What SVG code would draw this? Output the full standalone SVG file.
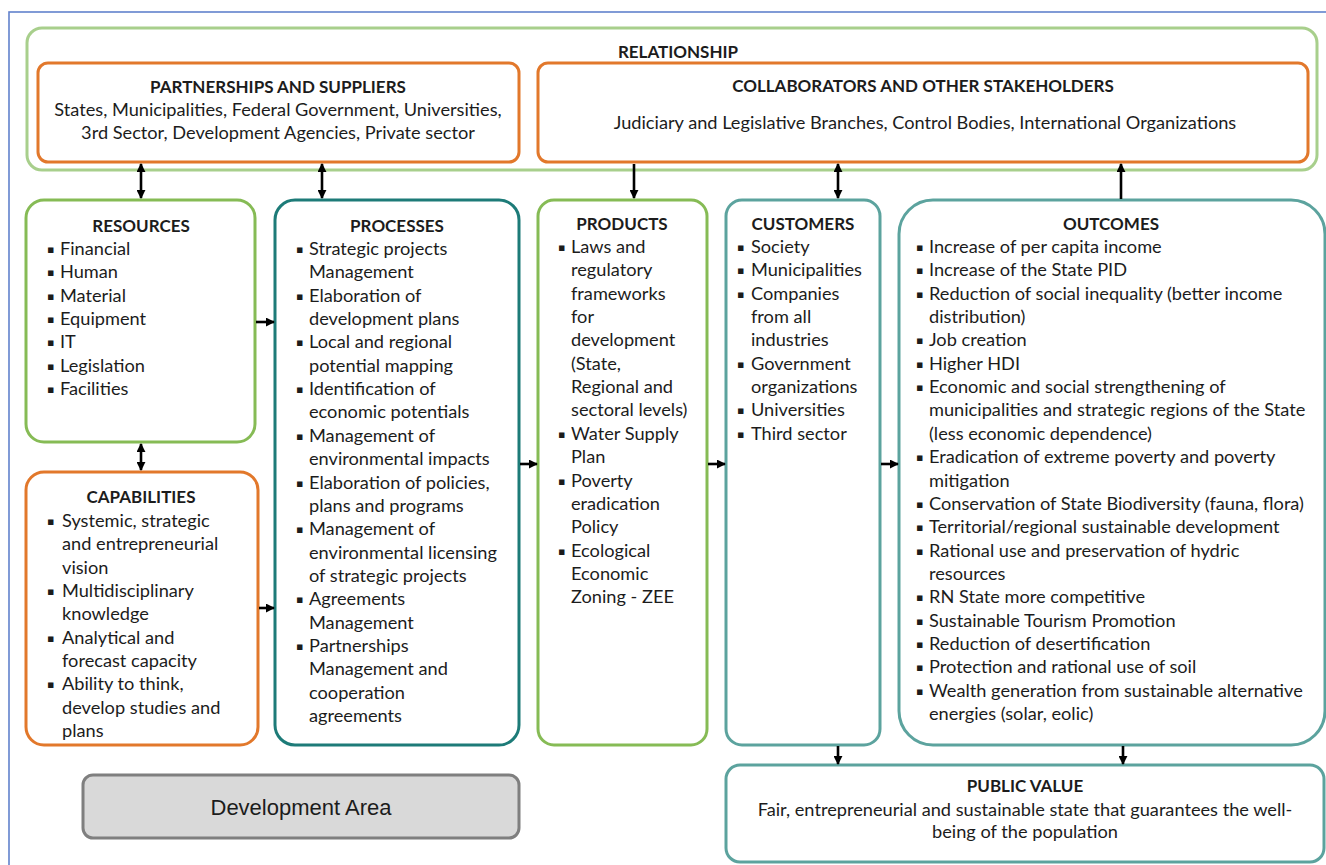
<svg xmlns="http://www.w3.org/2000/svg" width="1326" height="865" viewBox="0 0 1326 865">
  <style>
    .t { font-family: Lato, "Open Sans", "Liberation Sans", sans-serif; font-size: 18.2px; fill: #1c1c1c; }
    .h { font-family: Lato, "Open Sans", "Liberation Sans", sans-serif; font-size: 17px; font-weight: bold; fill: #1c1c1c; }
    .b { font-family: "DejaVu Sans", sans-serif; font-size: 11px; fill: #1c1c1c; }
    .box { fill: #ffffff; stroke-width: 3; }
    .orange { stroke: #e2782b; }
    .green { stroke: #86bb55; }
    .lgreen { stroke: #a8cf8c; }
    .teal { stroke: #1d7b78; }
    .lteal { stroke: #5ca39e; }
    .conn { stroke: #000; stroke-width: 2.6; fill: none; }
  </style>
  <defs>
    <marker id="ah" viewBox="0 0 10 10" refX="9" refY="5" markerWidth="9" markerHeight="9" markerUnits="userSpaceOnUse" orient="auto-start-reverse">
      <path d="M0,0 L10,5 L0,10 z" fill="#000"/>
    </marker>
  </defs>

  <rect x="9" y="12" width="1330" height="870" fill="#ffffff" stroke="#6282cc" stroke-width="1.6"/>

  <g id="relationship">
    <rect class="box lgreen" x="27" y="28" width="1290" height="142" rx="15"/>
    <text class="h" x="678" y="58" text-anchor="middle">RELATIONSHIP</text>
  </g>

  <g id="partnerships">
    <rect class="box orange" x="38" y="63" width="481" height="99" rx="10"/>
    <text class="h" x="278" y="93" text-anchor="middle">PARTNERSHIPS AND SUPPLIERS</text>
    <text class="t" x="278" y="116" text-anchor="middle">States, Municipalities, Federal Government, Universities,</text>
    <text class="t" x="278" y="139" text-anchor="middle">3rd Sector, Development Agencies, Private sector</text>
  </g>

  <g id="collaborators">
    <rect class="box orange" x="538" y="63" width="770" height="99" rx="10"/>
    <text class="h" x="923" y="92" text-anchor="middle">COLLABORATORS AND OTHER STAKEHOLDERS</text>
    <text class="t" x="925" y="129" text-anchor="middle">Judiciary and Legislative Branches, Control Bodies, International Organizations</text>
  </g>

  <g id="resources">
    <rect class="box green" x="26" y="200" width="229" height="242" rx="18"/>
    <text class="h" x="141" y="232" text-anchor="middle">RESOURCES</text>
    <text class="b"><tspan x="47" y="253">▪</tspan><tspan x="47" y="276.35">▪</tspan><tspan x="47" y="299.7">▪</tspan><tspan x="47" y="323.05">▪</tspan><tspan x="47" y="346.4">▪</tspan><tspan x="47" y="369.75">▪</tspan><tspan x="47" y="393.1">▪</tspan></text>
    <text class="t" x="60" y="255">
      <tspan x="60" dy="0">Financial</tspan>
      <tspan x="60" dy="23.35">Human</tspan>
      <tspan x="60" dy="23.35">Material</tspan>
      <tspan x="60" dy="23.35">Equipment</tspan>
      <tspan x="60" dy="23.35">IT</tspan>
      <tspan x="60" dy="23.35">Legislation</tspan>
      <tspan x="60" dy="23.35">Facilities</tspan>
    </text>
  </g>

  <g id="capabilities">
    <rect class="box orange" x="26" y="472" width="232" height="273" rx="18"/>
    <text class="h" x="141" y="503" text-anchor="middle">CAPABILITIES</text>
    <text class="b"><tspan x="47" y="525">▪</tspan><tspan x="47" y="595.05">▪</tspan><tspan x="47" y="641.75">▪</tspan><tspan x="47" y="688.45">▪</tspan></text>
    <text class="t" x="62" y="527">
      <tspan x="62" dy="0">Systemic, strategic</tspan>
      <tspan x="62" dy="23.35">and entrepreneurial</tspan>
      <tspan x="62" dy="23.35">vision</tspan>
      <tspan x="62" dy="23.35">Multidisciplinary</tspan>
      <tspan x="62" dy="23.35">knowledge</tspan>
      <tspan x="62" dy="23.35">Analytical and</tspan>
      <tspan x="62" dy="23.35">forecast capacity</tspan>
      <tspan x="62" dy="23.35">Ability to think,</tspan>
      <tspan x="62" dy="23.35">develop studies and</tspan>
      <tspan x="62" dy="23.35">plans</tspan>
    </text>
  </g>

  <g id="processes">
    <rect class="box teal" x="275" y="200" width="244" height="545" rx="20"/>
    <text class="h" x="397" y="232" text-anchor="middle">PROCESSES</text>
    <text class="b"><tspan x="296" y="253">▪</tspan><tspan x="296" y="299.7">▪</tspan><tspan x="296" y="346.4">▪</tspan><tspan x="296" y="393.1">▪</tspan><tspan x="296" y="439.8">▪</tspan><tspan x="296" y="486.5">▪</tspan><tspan x="296" y="533.2">▪</tspan><tspan x="296" y="603.25">▪</tspan><tspan x="296" y="649.95">▪</tspan></text>
    <text class="t" x="309" y="255">
      <tspan x="309" dy="0">Strategic projects</tspan>
      <tspan x="309" dy="23.35">Management</tspan>
      <tspan x="309" dy="23.35">Elaboration of</tspan>
      <tspan x="309" dy="23.35">development plans</tspan>
      <tspan x="309" dy="23.35">Local and regional</tspan>
      <tspan x="309" dy="23.35">potential mapping</tspan>
      <tspan x="309" dy="23.35">Identification of</tspan>
      <tspan x="309" dy="23.35">economic potentials</tspan>
      <tspan x="309" dy="23.35">Management of</tspan>
      <tspan x="309" dy="23.35">environmental impacts</tspan>
      <tspan x="309" dy="23.35">Elaboration of policies,</tspan>
      <tspan x="309" dy="23.35">plans and programs</tspan>
      <tspan x="309" dy="23.35">Management of</tspan>
      <tspan x="309" dy="23.35">environmental licensing</tspan>
      <tspan x="309" dy="23.35">of strategic projects</tspan>
      <tspan x="309" dy="23.35">Agreements</tspan>
      <tspan x="309" dy="23.35">Management</tspan>
      <tspan x="309" dy="23.35">Partnerships</tspan>
      <tspan x="309" dy="23.35">Management and</tspan>
      <tspan x="309" dy="23.35">cooperation</tspan>
      <tspan x="309" dy="23.35">agreements</tspan>
    </text>
  </g>

  <g id="products">
    <rect class="box green" x="538" y="200" width="169" height="545" rx="16"/>
    <text class="h" x="622" y="230" text-anchor="middle">PRODUCTS</text>
    <text class="b"><tspan x="558" y="251">▪</tspan><tspan x="558" y="437.8">▪</tspan><tspan x="558" y="484.5">▪</tspan><tspan x="558" y="554.55">▪</tspan></text>
    <text class="t" x="571" y="253">
      <tspan x="571" dy="0">Laws and</tspan>
      <tspan x="571" dy="23.35">regulatory</tspan>
      <tspan x="571" dy="23.35">frameworks</tspan>
      <tspan x="571" dy="23.35">for</tspan>
      <tspan x="571" dy="23.35">development</tspan>
      <tspan x="571" dy="23.35">(State,</tspan>
      <tspan x="571" dy="23.35">Regional and</tspan>
      <tspan x="571" dy="23.35">sectoral levels)</tspan>
      <tspan x="571" dy="23.35">Water Supply</tspan>
      <tspan x="571" dy="23.35">Plan</tspan>
      <tspan x="571" dy="23.35">Poverty</tspan>
      <tspan x="571" dy="23.35">eradication</tspan>
      <tspan x="571" dy="23.35">Policy</tspan>
      <tspan x="571" dy="23.35">Ecological</tspan>
      <tspan x="571" dy="23.35">Economic</tspan>
      <tspan x="571" dy="23.35">Zoning - ZEE</tspan>
    </text>
  </g>

  <g id="customers">
    <rect class="box lteal" x="726" y="200" width="154" height="545" rx="16"/>
    <text class="h" x="803" y="230" text-anchor="middle">CUSTOMERS</text>
    <text class="b"><tspan x="737" y="251">▪</tspan><tspan x="737" y="274.35">▪</tspan><tspan x="737" y="297.7">▪</tspan><tspan x="737" y="367.75">▪</tspan><tspan x="737" y="414.45">▪</tspan><tspan x="737" y="437.8">▪</tspan></text>
    <text class="t" x="751" y="253">
      <tspan x="751" dy="0">Society</tspan>
      <tspan x="751" dy="23.35">Municipalities</tspan>
      <tspan x="751" dy="23.35">Companies</tspan>
      <tspan x="751" dy="23.35">from all</tspan>
      <tspan x="751" dy="23.35">industries</tspan>
      <tspan x="751" dy="23.35">Government</tspan>
      <tspan x="751" dy="23.35">organizations</tspan>
      <tspan x="751" dy="23.35">Universities</tspan>
      <tspan x="751" dy="23.35">Third sector</tspan>
    </text>
  </g>

  <g id="outcomes">
    <rect class="box lteal" x="899" y="200" width="426" height="545" rx="34"/>
    <text class="h" x="1111" y="230" text-anchor="middle">OUTCOMES</text>
    <text class="b"><tspan x="916" y="251">▪</tspan><tspan x="916" y="274.35">▪</tspan><tspan x="916" y="297.7">▪</tspan><tspan x="916" y="344.4">▪</tspan><tspan x="916" y="367.75">▪</tspan><tspan x="916" y="391.1">▪</tspan><tspan x="916" y="461.15">▪</tspan><tspan x="916" y="507.85">▪</tspan><tspan x="916" y="531.2">▪</tspan><tspan x="916" y="554.55">▪</tspan><tspan x="916" y="601.25">▪</tspan><tspan x="916" y="624.6">▪</tspan><tspan x="916" y="647.95">▪</tspan><tspan x="916" y="671.3">▪</tspan><tspan x="916" y="694.65">▪</tspan></text>
    <text class="t" x="929" y="253">
      <tspan x="929" dy="0">Increase of per capita income</tspan>
      <tspan x="929" dy="23.35">Increase of the State PID</tspan>
      <tspan x="929" dy="23.35">Reduction of social inequality (better income</tspan>
      <tspan x="929" dy="23.35">distribution)</tspan>
      <tspan x="929" dy="23.35">Job creation</tspan>
      <tspan x="929" dy="23.35">Higher HDI</tspan>
      <tspan x="929" dy="23.35">Economic and social strengthening of</tspan>
      <tspan x="929" dy="23.35">municipalities and strategic regions of the State</tspan>
      <tspan x="929" dy="23.35">(less economic dependence)</tspan>
      <tspan x="929" dy="23.35">Eradication of extreme poverty and poverty</tspan>
      <tspan x="929" dy="23.35">mitigation</tspan>
      <tspan x="929" dy="23.35">Conservation of State Biodiversity (fauna, flora)</tspan>
      <tspan x="929" dy="23.35">Territorial/regional sustainable development</tspan>
      <tspan x="929" dy="23.35">Rational use and preservation of hydric</tspan>
      <tspan x="929" dy="23.35">resources</tspan>
      <tspan x="929" dy="23.35">RN State more competitive</tspan>
      <tspan x="929" dy="23.35">Sustainable Tourism Promotion</tspan>
      <tspan x="929" dy="23.35">Reduction of desertification</tspan>
      <tspan x="929" dy="23.35">Protection and rational use of soil</tspan>
      <tspan x="929" dy="23.35">Wealth generation from sustainable alternative</tspan>
      <tspan x="929" dy="23.35">energies (solar, eolic)</tspan>
    </text>
  </g>

  <g id="public-value">
    <rect class="box lteal" x="726" y="765" width="598" height="97" rx="14"/>
    <text class="h" x="1025" y="792" text-anchor="middle">PUBLIC VALUE</text>
    <text class="t" x="1025" y="816" text-anchor="middle">Fair, entrepreneurial and sustainable state that guarantees the well-</text>
    <text class="t" x="1025" y="838" text-anchor="middle">being of the population</text>
  </g>

  <g id="development-area">
    <rect x="83" y="775" width="436" height="63" rx="10" fill="#d9d9d9" stroke="#7f7f7f" stroke-width="3"/>
    <text x="301" y="815" text-anchor="middle" font-family="'Liberation Sans', Arial, sans-serif" font-size="22" fill="#1c1c1c">Development Area</text>
  </g>

  <g id="connectors" class="conn">
    <line x1="141" y1="164" x2="141" y2="198" marker-start="url(#ah)" marker-end="url(#ah)"/>
    <line x1="322" y1="164" x2="322" y2="198" marker-start="url(#ah)" marker-end="url(#ah)"/>
    <line x1="634" y1="164" x2="634" y2="198" marker-end="url(#ah)"/>
    <line x1="838" y1="164" x2="838" y2="198" marker-start="url(#ah)" marker-end="url(#ah)"/>
    <line x1="1121" y1="199" x2="1121" y2="164" marker-end="url(#ah)"/>
    <line x1="141" y1="444" x2="141" y2="470" marker-start="url(#ah)" marker-end="url(#ah)"/>
    <line x1="256" y1="322" x2="274" y2="322" marker-end="url(#ah)"/>
    <line x1="259" y1="608" x2="274" y2="608" marker-end="url(#ah)"/>
    <line x1="520" y1="464" x2="537" y2="464" marker-end="url(#ah)"/>
    <line x1="708" y1="464" x2="725" y2="464" marker-end="url(#ah)"/>
    <line x1="881" y1="464" x2="898" y2="464" marker-end="url(#ah)"/>
    <line x1="838" y1="746" x2="838" y2="764" marker-end="url(#ah)"/>
    <line x1="1123" y1="746" x2="1123" y2="764" marker-end="url(#ah)"/>
  </g>
</svg>
